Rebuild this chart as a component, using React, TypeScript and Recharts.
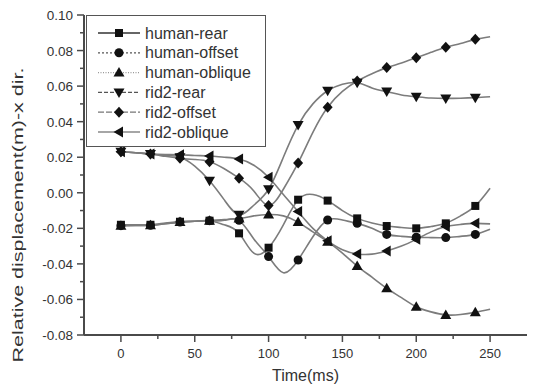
import React from "react";
import { LineChart, Line, XAxis, YAxis } from "recharts";

// sampled every 10 ms, symbols drawn every 20 ms
const time = [0, 10, 20, 30, 40, 50, 60, 70, 80, 90, 100, 110, 120, 130, 140, 150, 160, 170, 180, 190, 200, 210, 220, 230, 240, 250];

const humanRear = [-0.018, -0.018, -0.018, -0.017, -0.0163, -0.016, -0.0157, -0.018, -0.0228, -0.034, -0.0309, -0.018, -0.0039, -0.001, -0.0044, -0.01, -0.0144, -0.017, -0.0187, -0.0195, -0.02, -0.019, -0.0172, -0.013, -0.0074, 0.0025];
const humanOffset = [-0.0185, -0.0184, -0.0183, -0.0174, -0.0165, -0.016, -0.0157, -0.0155, -0.0155, -0.026, -0.0359, -0.045, -0.0378, -0.0247, -0.0153, -0.0153, -0.0172, -0.02, -0.0234, -0.0245, -0.025, -0.0252, -0.0252, -0.0245, -0.0234, -0.0205];
const humanOblique = [-0.0185, -0.0184, -0.0183, -0.0174, -0.0165, -0.016, -0.0157, -0.015, -0.0145, -0.013, -0.0122, -0.013, -0.0165, -0.022, -0.0275, -0.034, -0.0412, -0.0475, -0.0537, -0.059, -0.0641, -0.067, -0.0687, -0.0685, -0.0672, -0.0655];
const rid2Rear = [0.0231, 0.0225, 0.0218, 0.021, 0.02, 0.015, 0.0068, -0.004, -0.0123, -0.007, 0.002, 0.02, 0.0381, 0.05, 0.0574, 0.061, 0.0619, 0.059, 0.0569, 0.055, 0.054, 0.0533, 0.0531, 0.0532, 0.0535, 0.054];
const rid2Offset = [0.0231, 0.0225, 0.0218, 0.0205, 0.0194, 0.0187, 0.0175, 0.0135, 0.0082, 0.001, -0.0072, 0.002, 0.0168, 0.034, 0.0481, 0.057, 0.0629, 0.067, 0.0704, 0.073, 0.076, 0.079, 0.0818, 0.084, 0.0863, 0.0878];
const rid2Oblique = [0.0231, 0.0225, 0.0218, 0.0215, 0.0214, 0.021, 0.0207, 0.02, 0.019, 0.0155, 0.0087, -0.001, -0.0106, -0.02, -0.027, -0.032, -0.0344, -0.0345, -0.0327, -0.03, -0.0262, -0.022, -0.019, -0.0178, -0.0172, -0.0175];

const xTicks = [0, 25, 50, 75, 100, 125, 150, 175, 200, 225, 250];
const yTicks = [-0.08, -0.07, -0.06, -0.05, -0.04, -0.03, -0.02, -0.01, 0, 0.01, 0.02, 0.03, 0.04, 0.05, 0.06, 0.07, 0.08, 0.09, 0.1];

const series = [
  { key: "humanRear", name: "human-rear", values: humanRear, shape: "square", dash: "", legendStroke: "#333" },
  { key: "humanOffset", name: "human-offset", values: humanOffset, shape: "circle", dash: "2 2", legendStroke: "#555" },
  { key: "humanOblique", name: "human-oblique", values: humanOblique, shape: "up", dash: "1 1.5", legendStroke: "#999" },
  { key: "rid2Rear", name: "rid2-rear", values: rid2Rear, shape: "down", dash: "4 2", legendStroke: "#555" },
  { key: "rid2Offset", name: "rid2-offset", values: rid2Offset, shape: "diamond", dash: "6 2", legendStroke: "#777" },
  { key: "rid2Oblique", name: "rid2-oblique", values: rid2Oblique, shape: "left", dash: "", legendStroke: "#888" },
];

const data = time.map((t, i) => {
  const row: Record<string, number> = { t };
  series.forEach((s) => (row[s.key] = s.values[i]));
  return row;
});

const AXIS = "#4a4a4a";
const TEXT = "#333";
const LINE = "#7c7c7c";
const FONT = "'Liberation Sans', Arial, sans-serif";

function Marker({ shape, cx, cy }: { shape: string; cx: number; cy: number }) {
  const f = "#111";
  switch (shape) {
    case "square":
      return <rect x={cx - 4} y={cy - 4} width={8} height={8} fill={f} />;
    case "circle":
      return <circle cx={cx} cy={cy} r={4.5} fill={f} />;
    case "up":
      return <polygon points={`${cx},${cy - 5.5} ${cx - 5.5},${cy + 4} ${cx + 5.5},${cy + 4}`} fill={f} />;
    case "down":
      return <polygon points={`${cx},${cy + 5.5} ${cx - 5.5},${cy - 4} ${cx + 5.5},${cy - 4}`} fill={f} />;
    case "diamond":
      return <polygon points={`${cx},${cy - 5.5} ${cx + 5},${cy} ${cx},${cy + 5.5} ${cx - 5},${cy}`} fill={f} />;
    default:
      return <polygon points={`${cx - 5.5},${cy} ${cx + 4},${cy - 5.5} ${cx + 4},${cy + 5.5}`} fill={f} />;
  }
}

function BottomTick(props: any) {
  const { x, y, payload } = props;
  const major = payload.value % 50 === 0;
  return (
    <g>
      <line x1={x} x2={x} y1={y} y2={y + (major ? 7 : 4)} stroke={AXIS} strokeWidth={1.5} />
      {major && (
        <text x={x} y={y + 23} textAnchor="middle" fontSize={13} fill={TEXT} fontFamily={FONT}>
          {payload.value}
        </text>
      )}
    </g>
  );
}

function TopTick(props: any) {
  const { x, y, payload } = props;
  const major = payload.value % 50 === 0;
  return <line x1={x} x2={x} y1={y} y2={y + (major ? 5 : 3)} stroke={AXIS} strokeWidth={1.5} />;
}

function LeftTick(props: any) {
  const { x, y, payload } = props;
  const major = Math.round(payload.value * 100) % 2 === 0;
  return (
    <g>
      <line x1={x} x2={x - (major ? 7 : 4)} y1={y} y2={y} stroke={AXIS} strokeWidth={1.5} />
      {major && (
        <text x={x - 11} y={y + 5} textAnchor="end" fontSize={13.5} fill={TEXT} fontFamily={FONT}>
          {payload.value.toFixed(2)}
        </text>
      )}
    </g>
  );
}

function RightTick(props: any) {
  const { x, y, payload } = props;
  const major = Math.round(payload.value * 100) % 2 === 0;
  return <line x1={x} x2={x - (major ? 5 : 3)} y1={y} y2={y} stroke={AXIS} strokeWidth={1.5} />;
}

function ChartLegend() {
  return (
    <div
      style={{
        position: "absolute",
        left: 86,
        top: 15,
        width: 180,
        height: 132,
        border: "1.5px solid #555",
        background: "#fff",
        boxSizing: "border-box",
      }}
    >
      <svg width={178} height={130} style={{ display: "block" }}>
        {series.map((s, i) => {
          const cy = 17 + i * 19.8;
          return (
            <g key={s.key}>
              <line x1={11} x2={53} y1={cy} y2={cy} stroke={s.legendStroke} strokeWidth={1.3} strokeDasharray={s.dash || undefined} />
              <Marker shape={s.shape} cx={32} cy={cy} />
              <text x={58} y={cy + 5.5} fontSize={16} fill={TEXT} fontFamily={FONT}>
                {s.name}
              </text>
            </g>
          );
        })}
      </svg>
    </div>
  );
}

export default function App() {
  return (
    <div style={{ position: "absolute", left: 0, top: 0, width: 533, height: 387, background: "#fff" }}>
      <LineChart width={533} height={387} data={data} margin={{ top: 15, right: 6, bottom: 0, left: 34 }}>
        <XAxis
          xAxisId="bottom"
          dataKey="t"
          type="number"
          domain={[-25, 275]}
          ticks={xTicks}
          interval={0}
          height={52}
          tickSize={0}
          tickMargin={0}
          tickLine={false}
          tick={<BottomTick />}
          axisLine={{ stroke: AXIS, strokeWidth: 2 }}
          label={{ value: "Time(ms)", position: "insideBottom", offset: 6, fontSize: 16, fill: TEXT, fontFamily: FONT }}
        />
        <XAxis
          xAxisId="top"
          orientation="top"
          dataKey="t"
          type="number"
          domain={[-25, 275]}
          ticks={xTicks}
          interval={0}
          height={0}
          tickSize={0}
          tickMargin={0}
          tickLine={false}
          tick={<TopTick />}
          axisLine={{ stroke: AXIS, strokeWidth: 2 }}
        />
        <YAxis
          yAxisId="left"
          type="number"
          domain={[-0.08, 0.1]}
          ticks={yTicks}
          interval={0}
          width={50}
          tickSize={0}
          tickMargin={0}
          tickLine={false}
          tick={<LeftTick />}
          axisLine={{ stroke: AXIS, strokeWidth: 2 }}
          label={{
            content: () => (
              <text
                x={0}
                y={0}
                transform="translate(23 215) rotate(-90)"
                textAnchor="middle"
                fontSize={15}
                fill={TEXT}
                fontFamily={FONT}
                textLength={295}
                lengthAdjust="spacingAndGlyphs"
              >
                Relative displacement(m)-x dir.
              </text>
            ),
          }}
        />
        <YAxis
          yAxisId="right"
          orientation="right"
          type="number"
          domain={[-0.08, 0.1]}
          ticks={yTicks}
          interval={0}
          width={0}
          tickSize={0}
          tickMargin={0}
          tickLine={false}
          tick={<RightTick />}
          axisLine={{ stroke: AXIS, strokeWidth: 2 }}
        />
        {series.map((s) => (
          <Line
            key={s.key}
            xAxisId="bottom"
            yAxisId="left"
            type="natural"
            dataKey={s.key}
            name={s.name}
            stroke={LINE}
            strokeWidth={1.6}
            isAnimationActive={false}
            activeDot={false}
            dot={(p: any) =>
              p.payload.t % 20 === 0 && p.payload.t < 250 ? (
                <Marker key={`${s.key}-${p.index}`} shape={s.shape} cx={p.cx} cy={p.cy} />
              ) : (
                <g key={`${s.key}-${p.index}`} />
              )
            }
          />
        ))}
      </LineChart>
      <ChartLegend />
    </div>
  );
}
